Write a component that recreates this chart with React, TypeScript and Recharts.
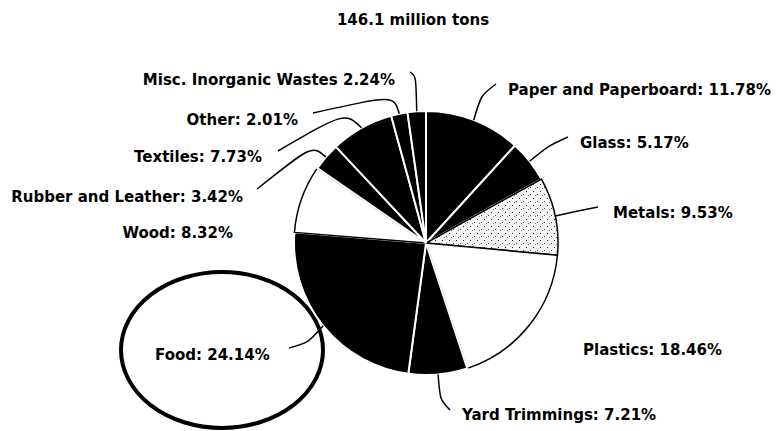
import { PieChart, Pie, Cell, Customized } from 'recharts';

const categories = [
  "Paper and Paperboard",
  "Glass",
  "Metals",
  "Plastics",
  "Yard Trimmings",
  "Food",
  "Wood",
  "Rubber and Leather",
  "Textiles",
  "Other",
  "Misc. Inorganic Wastes",
];
const shares = [11.78, 5.17, 9.53, 18.46, 7.21, 24.14, 8.32, 3.42, 7.73, 2.01, 2.24];
const title = "146.1 million tons";

const data = categories.map((name, i) => ({ name, value: shares[i] }));

// fill look per slice (black, white or speckled like the scan)
const fills: Record<string, string> = {
  "Metals": "url(#speckle)",
  "Plastics": "#fff",
  "Wood": "#fff",
};

// label placement relative to the pie centre: text pos, leader elbow, leader end
type Lay = { x: number; y: number; anchor: "start" | "end"; k?: [number, number]; t?: [number, number] };
const layout: Record<string, Lay> = {
  "Paper and Paperboard": { x: 82, y: -153, anchor: "start", k: [55, -148], t: [70, -159] },
  "Glass": { x: 154, y: -100, anchor: "start", k: [122, -97], t: [142, -106] },
  "Metals": { x: 187, y: -30, anchor: "start", k: [151, -32], t: [172, -36] },
  "Plastics": { x: 157, y: 107, anchor: "start" },
  "Yard Trimmings": { x: 36, y: 172, anchor: "start", k: [14, 157], t: [24, 167] },
  "Food": { x: -271, y: 112, anchor: "start", k: [-118, 100], t: [-137, 105] },
  "Wood": { x: -193, y: -10, anchor: "end" },
  "Rubber and Leather": { x: -183, y: -46, anchor: "end", k: [-114, -98], t: [-169, -54] },
  "Textiles": { x: -164, y: -86, anchor: "end", k: [-81, -131], t: [-148, -92] },
  "Other": { x: -128, y: -123, anchor: "end", k: [-32, -148], t: [-113, -130] },
  "Misc. Inorganic Wastes": { x: -31, y: -163, anchor: "end", k: [-10, -167], t: [-16, -171] },
};

const RAD = Math.PI / 180;
const FONT = "DejaVu Sans";

const renderLabel = (props: any) => {
  const { cx, cy, midAngle, outerRadius, index } = props;
  const name = categories[index];
  const lay = layout[name];
  const ex = cx + outerRadius * Math.cos(midAngle * RAD);
  const ey = cy - outerRadius * Math.sin(midAngle * RAD);
  const sep = name.startsWith("Misc") ? " " : ": ";
  return (
    <g key={`lab-${index}`}>
      {lay.k && lay.t && (
        <path
          d={`M${ex},${ey} C${cx + lay.k[0]},${cy + lay.k[1]} ${cx + lay.k[0]},${cy + lay.k[1]} ${cx + lay.t[0]},${cy + lay.t[1]}`}
          fill="none"
          stroke="#000"
          strokeWidth={1.5}
        />
      )}
      <text
        x={cx + lay.x}
        y={cy + lay.y}
        textAnchor={lay.anchor}
        dominantBaseline="central"
        fontFamily={FONT}
        fontWeight="bold"
        fontSize={15}
        fill="#000"
      >
        {`${name}${sep}${shares[index].toFixed(2)}%`}
      </text>
    </g>
  );
};

const Extras = () => (
  <g>
    <defs>
      <pattern id="speckle" width={7} height={7} patternUnits="userSpaceOnUse">
        <rect width={7} height={7} fill="#f4f4f4" />
        <rect x={1} y={2} width={1} height={1} fill="#222" />
        <rect x={5} y={5} width={1} height={1} fill="#444" />
        <rect x={3} y={6} width={1} height={1} fill="#777" />
      </pattern>
    </defs>
    <text x={413} y={20} textAnchor="middle" dominantBaseline="central" fontFamily={FONT} fontWeight="bold" fontSize={15} fill="#000">
      {title}
    </text>
    <ellipse cx={222} cy={350} rx={101} ry={78} fill="none" stroke="#000" strokeWidth={4} />
  </g>
);

export default function App() {
  return (
    <div style={{ position: "absolute", left: 0, top: 0, width: 777, height: 431, background: "#fff" }}>
      <PieChart width={777} height={431} margin={{ top: 0, right: 0, bottom: 0, left: 0 }}>
        <Customized component={Extras} />
        <Pie
          data={data}
          dataKey="value"
          nameKey="name"
          cx={426}
          cy={243}
          outerRadius={132}
          startAngle={90}
          endAngle={-270}
          label={renderLabel}
          labelLine={false}
          isAnimationActive={false}
        >
          {data.map((d) => {
            const f = fills[d.name] ?? "#000";
            const dark = f === "#000";
            return <Cell key={d.name} fill={f} stroke={dark ? "#fff" : "#000"} strokeWidth={dark ? 2 : 1.5} />;
          })}
        </Pie>
      </PieChart>
    </div>
  );
}
